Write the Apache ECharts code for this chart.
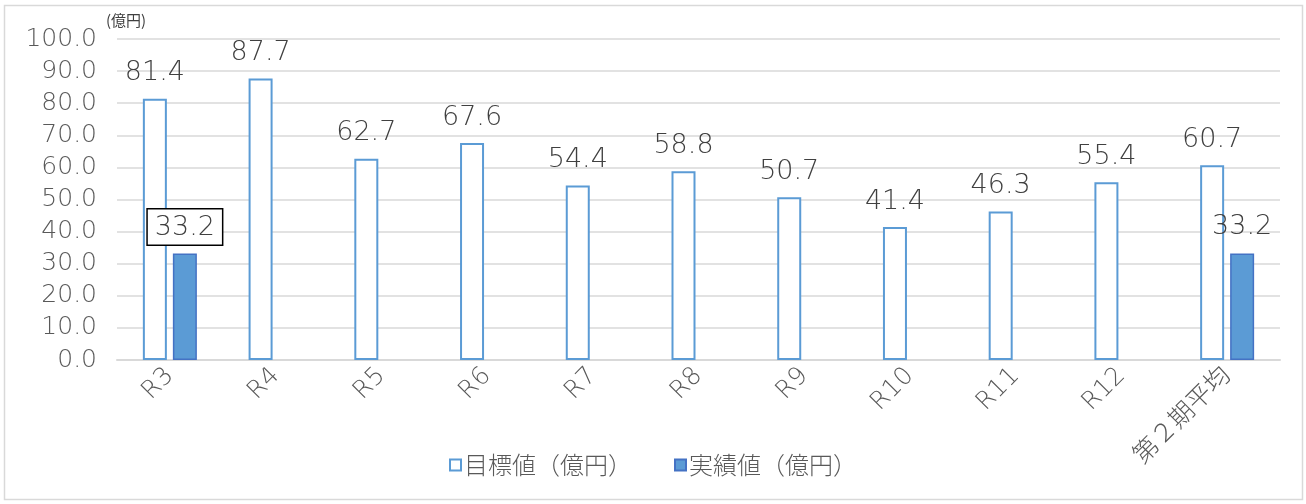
<!DOCTYPE html>
<html><head><meta charset="utf-8">
<script src="https://cdn.jsdelivr.net/npm/echarts@6/dist/echarts.min.js"></script>
<style>html,body{margin:0;padding:0;background:#fff}#c{width:1306px;height:504px}</style>
</head><body><div id="c"></div>
<script>
const categories = ['R3','R4','R5','R6','R7','R8','R9','R10','R11','R12','第２期平均'];
const targetValues = [81.4, 87.7, 62.7, 67.6, 54.4, 58.8, 50.7, 41.4, 46.3, 55.4, 60.7];
const actualValues = [33.2, null, null, null, null, null, null, null, null, null, 33.2];
const yTicks = {min: 0, max: 100, interval: 10};
const seriesNames = ['目標値（億円）', '実績値（億円）'];
const unitLabel = '(億円)';

const FONT = '"DejaVu Sans", "Noto Sans CJK JP", sans-serif';
const W = 300;
const chart = echarts.init(document.getElementById('c'));
const actualData = actualValues.map((v, i) => {
  if (v == null) return v;
  if (i === 0) {
    return {value: v, label: {show: true, borderColor: '#000', borderWidth: 1.5, backgroundColor: '#fff', padding: [5, 7, 3, 7], distance: 9}};
  }
  return {value: v, label: {show: true, distance: 13}};
});
chart.setOption({
  animation: false,
  graphic: [
    {type: 'rect', shape: {x: 4.5, y: 5.5, width: 1298, height: 494}, style: {fill: 'none', stroke: '#d9d9d9', lineWidth: 1.5}},
    {type: 'text', left: 106, top: 13, style: {text: unitLabel, font: '15px "Noto Sans CJK JP", sans-serif', fill: '#404040'}}
  ],
  grid: {left: 117, right: 26, top: 39, bottom: 144, containLabel: false},
  legend: {
    bottom: 22, left: 'center', itemWidth: 11, itemHeight: 11, itemGap: 42,
    textStyle: {fontSize: 24, color: '#595959', fontFamily: '"Noto Sans CJK JP", sans-serif', fontWeight: W, padding: [0, 0, 0, -2]},
    data: [{name: seriesNames[0], icon: 'rect'}, {name: seriesNames[1], icon: 'rect'}]
  },
  xAxis: {
    type: 'category', data: categories,
    axisLine: {lineStyle: {color: '#d9d9d9', width: 2}},
    axisTick: {show: false},
    axisLabel: {rotate: 45, fontSize: 25, color: '#595959', fontFamily: FONT, fontWeight: W, margin: 12, interval: 0}
  },
  yAxis: {
    type: 'value', min: yTicks.min, max: yTicks.max, interval: yTicks.interval,
    axisLine: {show: false}, axisTick: {show: false},
    splitLine: {lineStyle: {color: '#d9d9d9', width: 1.5}},
    axisLabel: {fontSize: 25, color: '#595959', fontFamily: FONT, fontWeight: W, margin: 20, formatter: v => v.toFixed(1)}
  },
  series: [
    {
      name: seriesNames[0], type: 'bar', data: targetValues, barWidth: 24, barGap: '25%',
      itemStyle: {color: '#fff', borderColor: '#5b9bd5', borderWidth: 2},
      label: {show: true, position: 'top', distance: 12, fontSize: 27, color: '#404040', fontFamily: FONT, fontWeight: W, formatter: p => p.value.toFixed(1)}
    },
    {
      name: seriesNames[1], type: 'bar', data: actualData, barWidth: 24,
      itemStyle: {color: '#5b9bd5', borderColor: '#4472c4', borderWidth: 1.5},
      label: {show: true, position: 'top', fontSize: 27, color: '#404040', fontFamily: FONT, fontWeight: W, formatter: p => p.value.toFixed(1)}
    }
  ]
});
</script></body></html>
